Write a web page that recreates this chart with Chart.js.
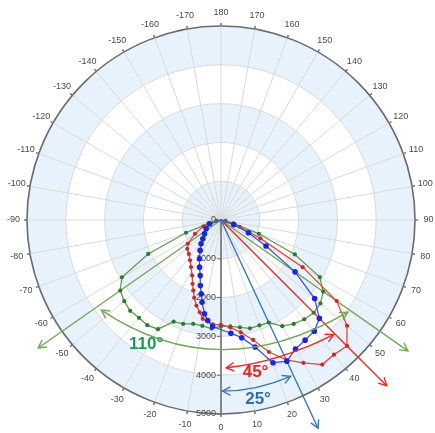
<!DOCTYPE html>
<html>
<head>
<meta charset="utf-8">
<title>Polar light distribution</title>
<script src="https://cdn.jsdelivr.net/npm/chart.js@4.4.1/dist/chart.umd.min.js"></script>
<style>
  html, body { margin: 0; padding: 0; background: #ffffff; }
  #wrap { width: 435px; height: 433px; position: relative; }
</style>
</head>
<body>
<div id="wrap"><canvas id="polar"></canvas></div>
<script>
// Angles in degrees: 0 points straight down, positive angles sweep to the right.
// Values are luminous intensity (cd).
const greenAngles = [-90, -80, -75, -70, -65, -60, -55, -50, -45, -40, -35, -30, -25, -20, -15, -10, -5, 0, 5, 10, 15, 20, 25, 30, 35, 40, 45, 50, 55, 60, 65, 70, 75, 80, 90];
const greenValues = [0, 120, 330, 960, 2070, 2950, 3170, 3255, 3310, 3290, 3310, 3250, 2890, 2850, 2770, 2770, 2810, 2740, 2750, 2810, 2890, 2890, 2915, 3160, 3270, 3340, 3380, 3345, 3215, 2940, 2100, 1040, 330, 120, 0];

const redAngles = [-90, -70, -62, -54.5, -49.5, -43.5, -37.5, -32.5, -27.5, -24, -21.5, -19, -16, -13, -10.5, -4.5, 0, 5, 10, 15, 20, 25, 30, 35, 40, 45, 50, 55, 60, 65, 70, 90];
const redValues = [0, 480, 760, 1050, 1145, 1205, 1310, 1440, 1610, 1800, 1950, 2120, 2295, 2440, 2590, 2700, 2700, 2780, 2940, 3200, 3620, 3980, 4250, 4550, 4530, 4590, 4240, 3640, 2430, 1120, 510, 0];

const blueAngles = [-90, -72, -59.5, -50, -44, -40, -34.5, -29, -24.5, -20.5, -17.5, -15, -13, -10, -7.5, -4.5, 5, 10, 15, 20, 25, 30, 35, 40, 45, 50, 55, 60, 65, 70, 90];
const blueValues = [0, 310, 445, 555, 675, 800, 950, 1145, 1335, 1530, 1770, 1970, 2175, 2455, 2615, 2755, 2930, 3080, 3390, 3915, 4015, 3840, 3780, 3740, 3585, 3150, 2330, 1340, 780, 350, 0];

// Axis labels
const angleTicks = [-170, -160, -150, -140, -130, -120, -110, -100, -90, -80, -70, -60, -50, -40, -30, -20, -10,
                    0, 10, 20, 30, 40, 50, 60, 70, 80, 90, 100, 110, 120, 130, 140, 150, 160, 170, 180];
const radialTicks = [0, 1000, 2000, 3000, 4000, 5000];

// Beam angles written on the chart
const beamAngles = { green: 110, red: 45, blue: 25 };

const COLORS = {
  green: '#5f9c48', greenDot: '#2b7a33', greenBeam: '#72a853', greenText: '#1c9b57',
  red: '#e6463f', redDot: '#c92b2b', redBeam: '#ea2a22', redText: '#e5241f',
  blue: '#3d4fe6', blueDot: '#1b26dc', blueBeam: '#3877b6', blueText: '#2f6ea8',
  band: '#e8f2fc', grid: '#dadada', axis: '#6b6b6b', text: '#4a4a4a'
};

// The radar scale is divided into half-degree slots so that any measured angle has a home.
const STEP = 0.5;
const N = 720;
const slotOf = a => ((-a / STEP) % N + N) % N;

const labels = Array.from({ length: N }, (_, i) => {
  let a = -i * STEP;
  if (a <= -180) a += 360;
  return String(a);
});

function toSeries(angles, values) {
  const arr = new Array(N).fill(null);
  angles.forEach((a, k) => { arr[Math.round(slotOf(a))] = values[k]; });
  return arr;
}

const rMax = radialTicks[radialTicks.length - 1];

function polarPoint(scale, angle, value) {
  return scale.getPointPositionForValue(slotOf(angle), value);
}

// Alternating light bands between the 1000 cd rings
const bandsPlugin = {
  id: 'bands',
  beforeDraw(chart) {
    const s = chart.scales.r, ctx = chart.ctx;
    ctx.save();
    ctx.fillStyle = COLORS.band;
    for (let k = 0; k + 1 < radialTicks.length; k += 2) {
      const r0 = s.getDistanceFromCenterForValue(radialTicks[k]);
      const r1 = s.getDistanceFromCenterForValue(radialTicks[k + 1]);
      ctx.beginPath();
      ctx.arc(s.xCenter, s.yCenter, r1, 0, Math.PI * 2);
      if (r0 > 0) ctx.arc(s.xCenter, s.yCenter, r0, 0, Math.PI * 2, true);
      ctx.fill();
    }
    ctx.restore();
  }
};

function arrowHead(ctx, tip, from, len) {
  const ang = Math.atan2(tip.y - from.y, tip.x - from.x);
  const spread = 0.5;
  ctx.beginPath();
  ctx.moveTo(tip.x - len * Math.cos(ang - spread), tip.y - len * Math.sin(ang - spread));
  ctx.lineTo(tip.x, tip.y);
  ctx.lineTo(tip.x - len * Math.cos(ang + spread), tip.y - len * Math.sin(ang + spread));
  ctx.stroke();
}

// Angle labels, outer tick marks and the intensity labels along the 0° axis
const axisPlugin = {
  id: 'axisLabels',
  beforeDatasetsDraw(chart) {
    const s = chart.scales.r, ctx = chart.ctx;
    const R = s.drawingArea;
    ctx.save();
    ctx.font = '9px "Liberation Sans", Arial, sans-serif';
    ctx.fillStyle = COLORS.text;
    ctx.textAlign = 'center';
    ctx.textBaseline = 'middle';
    ctx.strokeStyle = COLORS.axis;
    ctx.lineWidth = 1.4;
    angleTicks.forEach(a => {
      const idx = slotOf(a);
      const p = s.getPointPosition(idx, R + 13.5);
      ctx.fillText(String(a), p.x, p.y);
      const t0 = s.getPointPosition(idx, R - 0.5);
      const t1 = s.getPointPosition(idx, R + 3);
      ctx.beginPath();
      ctx.moveTo(t0.x, t0.y);
      ctx.lineTo(t1.x, t1.y);
      ctx.stroke();
    });
    ctx.textAlign = 'right';
    ctx.lineWidth = 1;
    radialTicks.forEach(v => {
      const p = s.getPointPositionForValue(0, v);
      ctx.fillText(String(v), p.x - 5, p.y);
      if (v > 0) {
        ctx.beginPath();
        ctx.moveTo(p.x - 4, p.y);
        ctx.lineTo(p.x, p.y);
        ctx.stroke();
      }
    });
    ctx.restore();

    // beam edge rays, drawn under the curves
    const c = { x: s.xCenter, y: s.yCenter };
    const rays = [
      { angle: -beamAngles.green / 2, len: 5750, color: COLORS.greenBeam },
      { angle: beamAngles.green / 2, len: 5880, color: COLORS.greenBeam },
      { angle: beamAngles.red, len: 6040, color: COLORS.redBeam },
      { angle: beamAngles.blue, len: 5920, color: COLORS.blueBeam }
    ];
    ctx.save();
    ctx.lineWidth = 1.4;
    rays.forEach(r => {
      const end = polarPoint(s, r.angle, r.len);
      ctx.strokeStyle = r.color;
      ctx.beginPath();
      ctx.moveTo(c.x, c.y);
      ctx.lineTo(end.x, end.y);
      ctx.stroke();
      arrowHead(ctx, end, c, 9);
    });
    ctx.restore();
  }
};

// Curved double arrows spanning each beam, with their angle written beside them
const beamArcPlugin = {
  id: 'beamArcs',
  afterDatasetsDraw(chart) {
    const s = chart.scales.r, ctx = chart.ctx;
    const arcs = [
      { color: COLORS.greenBeam, textColor: COLORS.greenText, label: beamAngles.green + '°',
        from: [-53, 3860], via: [0, 3340], to: [54, 4040], textAt: [-31, 3750] },
      { color: COLORS.redBeam, textColor: COLORS.redText, label: beamAngles.red + '°',
        from: [2, 3810], via: [23, 3830], to: [44.5, 4140], textAt: [12.8, 4020] },
      { color: COLORS.blueBeam, textColor: COLORS.blueText, label: beamAngles.blue + '°',
        from: [0.5, 4410], via: [12, 4410], to: [24, 4410], textAt: [11.7, 4710] }
    ];
    ctx.save();
    arcs.forEach(a => {
      const p0 = polarPoint(s, a.from[0], a.from[1]);
      const pm = polarPoint(s, a.via[0], a.via[1]);
      const p2 = polarPoint(s, a.to[0], a.to[1]);
      const cp = { x: 2 * pm.x - (p0.x + p2.x) / 2, y: 2 * pm.y - (p0.y + p2.y) / 2 };
      ctx.strokeStyle = a.color;
      ctx.lineWidth = 1.4;
      ctx.beginPath();
      ctx.moveTo(p0.x, p0.y);
      ctx.quadraticCurveTo(cp.x, cp.y, p2.x, p2.y);
      ctx.stroke();
      arrowHead(ctx, p0, cp, 9);
      arrowHead(ctx, p2, cp, 9);
      const t = polarPoint(s, a.textAt[0], a.textAt[1]);
      ctx.font = 'bold 17px "Liberation Sans", Arial, sans-serif';
      ctx.textAlign = 'center';
      ctx.textBaseline = 'middle';
      ctx.fillStyle = a.textColor;
      ctx.fillText(a.label, t.x, t.y);
    });
    ctx.restore();
  }
};

const dot = r => ctx => (ctx.raw === 0 || ctx.raw === null ? 0 : r);

new Chart(document.getElementById('polar'), {
  type: 'radar',
  data: {
    labels: labels,
    datasets: [
      {
        label: 'Blue',
        data: toSeries(blueAngles, blueValues),
        borderColor: COLORS.blue,
        backgroundColor: COLORS.blueDot,
        pointBackgroundColor: COLORS.blueDot,
        pointBorderColor: COLORS.blueDot,
        pointRadius: dot(2.8),
        pointBorderWidth: 0,
        borderWidth: 1.3,
        fill: false,
        spanGaps: true
      },
      {
        label: 'Red',
        data: toSeries(redAngles, redValues),
        borderColor: COLORS.red,
        backgroundColor: COLORS.redDot,
        pointBackgroundColor: COLORS.redDot,
        pointBorderColor: COLORS.redDot,
        pointRadius: dot(2.1),
        pointBorderWidth: 0,
        borderWidth: 1.3,
        fill: false,
        spanGaps: true
      },
      {
        label: 'Green',
        data: toSeries(greenAngles, greenValues),
        borderColor: COLORS.green,
        backgroundColor: COLORS.greenDot,
        pointBackgroundColor: COLORS.greenDot,
        pointBorderColor: COLORS.greenDot,
        pointRadius: dot(2.1),
        pointBorderWidth: 0,
        borderWidth: 1.3,
        fill: false,
        spanGaps: true
      }
    ]
  },
  options: {
    responsive: true,
    maintainAspectRatio: false,
    animation: false,
    layout: { padding: { left: 27, right: 20, top: 26, bottom: 19 } },
    plugins: { legend: { display: false }, tooltip: { enabled: false } },
    scales: {
      r: {
        min: 0,
        max: rMax,
        startAngle: 180,
        ticks: { display: false, stepSize: 1000 },
        grid: {
          circular: true,
          color: ctx => (ctx.tick && ctx.tick.value === rMax ? COLORS.axis : COLORS.grid),
          lineWidth: ctx => (ctx.tick && ctx.tick.value === rMax ? 1.6 : 1)
        },
        angleLines: {
          display: true,
          color: ctx => (ctx.index === 0 ? COLORS.axis : COLORS.grid),
          lineWidth: ctx => (ctx.index % 20 === 0 ? (ctx.index === 0 ? 1.6 : 1) : 0)
        },
        pointLabels: { display: false }
      }
    }
  },
  plugins: [bandsPlugin, axisPlugin, beamArcPlugin]
});
</script>
</body>
</html>
